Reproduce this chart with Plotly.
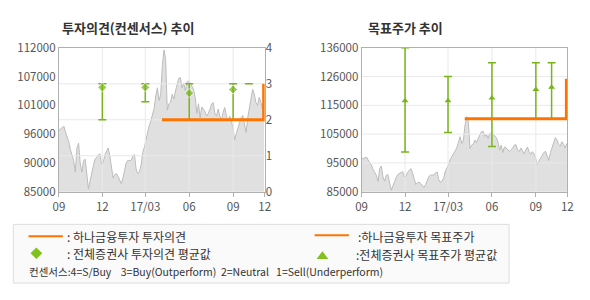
import numpy as np
import pandas as pd
import plotly.graph_objects as go

# ---------------- data ----------------
price = [96500, 96800, 97100, 97300, 96200, 95300, 94400, 92900, 91700, 90800,
         88700, 93200, 94100, 90200, 88700, 90800, 91100, 88400, 85500, 87000,
         88700, 89900, 91100, 91400, 91900, 92100, 90200, 90500, 91900, 92600,
         93200, 91700, 89300, 87600, 88200, 88400, 87900, 87300, 86500, 87600,
         89300, 90400, 90900, 90800, 90900, 91700, 92000, 89300, 88400, 88700,
         89900, 92300, 93300, 94700, 96500, 97400, 98300, 99500, 100600, 103000,
         104500, 102100, 103300, 108700, 111600, 109900, 100300, 101500, 101800, 103300,
         102400, 103900, 105100, 106300, 106400, 104500, 105400, 103900, 105600, 105800,
         105400, 104800, 104200, 102700, 99700, 101500, 98900, 100900, 100500, 100000,
         99200, 99700, 100500, 101500, 101700, 99700, 99200, 100500, 99200, 98400,
         99900, 100800, 99200, 98300, 99200, 98400, 96900, 94700, 95900, 96800,
         97700, 98900, 99300, 97300, 96100, 98900, 100600, 102400, 104200, 103300,
         101700, 101200, 102700, 101800, 100500, 102100]
price_start = "2016-09-01"
price_end = "2017-11-05"
x_range = ["2016-09-01", "2017-11-06"]

tick_dates = ["2016-09-01", "2016-12-01", "2017-03-01", "2017-06-01", "2017-09-01", "2017-11-06"]
tick_text = ["09", "12", "17/03", "06", "09", "12"]
grid_dates = ["2016-12-01", "2017-03-01", "2017-06-01", "2017-09-01"]

left_price_range = [85000, 112000]
left_tick_text = ["85000", "90000", "96000", "101000", "107000", "112000"]
right_price_range = [85000, 136000]
right_tick_text = ["85000", "95000", "105000", "115000", "126000", "136000"]
opinion_ticks = [0, 1, 2, 3, 4]

cons_dates = ["2016-12-01", "2017-03-01", "2017-06-01", "2017-09-01", "2017-10-04"]
opinion_mean = [2.9, 2.9, 2.74, 2.84, 3.0]
opinion_max = [3, 3, 3, 3, 3]
opinion_min = [2, 2.5, 2, 2, 3]
target_mean = [117200, 117200, 118200, 121200, 122000]
target_max = [136000, 125800, 130700, 130700, 130700]
target_min = [99100, 106000, 101000, 110900, 110900]

hana_dates = ["2017-04-05", "2017-11-04", "2017-11-04"]
hana_opinion = [2, 2, 3]
hana_target = [110900, 110900, 125000]

# ---------------- styles ----------------
W, H = 590, 300
FONT = "Noto Sans CJK KR"
GREEN = "#78b41a"
GREEN_L = "#82c01e"
ORANGE = "#ff7400"
GRID = "#e9e9e9"
FRAME = "#b0b0b0"
AREA_FILL = "#e0e0e0"
AREA_LINE = "#bcbcbc"
TICK_FONT = dict(family=FONT, size=11.5, color="#555555")


def px_x(p):
    return p / W


def px_y(p):
    return 1 - p / H


dates = pd.date_range(price_start, price_end, periods=len(price))

fig = go.Figure()

# ---- left chart: price area ----
fig.add_trace(go.Scatter(x=dates, y=price, xaxis="x", yaxis="y", mode="lines",
                         line=dict(color=AREA_LINE, width=1), fill="tozeroy",
                         fillcolor=AREA_FILL, hoverinfo="skip"))
# gridlines (drawn over the area)
gx, gy = [], []
for lv in opinion_ticks[1:-1]:
    gx += [x_range[0], x_range[1], None]
    gy += [lv, lv, None]
for d in grid_dates:
    gx += [d, d, None]
    gy += [opinion_ticks[0], opinion_ticks[-1], None]
fig.add_trace(go.Scatter(x=gx, y=gy, xaxis="x", yaxis="y2", mode="lines",
                         line=dict(color=GRID, width=1), hoverinfo="skip"))
# consensus opinion
fig.add_trace(go.Scatter(
    x=cons_dates, y=opinion_mean, xaxis="x", yaxis="y2", mode="markers",
    marker=dict(symbol="diamond", size=[7, 7, 7, 7, 0], color=GREEN),
    error_y=dict(type="data", symmetric=False,
                 array=[a - m for a, m in zip(opinion_max, opinion_mean)],
                 arrayminus=[m - b for m, b in zip(opinion_mean, opinion_min)],
                 color=GREEN, thickness=1.5, width=4),
    hoverinfo="skip"))
fig.add_trace(go.Scatter(x=hana_dates, y=hana_opinion, xaxis="x", yaxis="y2",
                         mode="lines", line=dict(color=ORANGE, width=3),
                         hoverinfo="skip"))

# ---- right chart ----
fig.add_trace(go.Scatter(x=dates, y=price, xaxis="x2", yaxis="y3", mode="lines",
                         line=dict(color=AREA_LINE, width=1), fill="tozeroy",
                         fillcolor=AREA_FILL, hoverinfo="skip"))
rtv = list(np.linspace(right_price_range[0], right_price_range[1], len(right_tick_text)))
gx, gy = [], []
for lv in rtv[1:-1]:
    gx += [x_range[0], x_range[1], None]
    gy += [lv, lv, None]
for d in grid_dates:
    gx += [d, d, None]
    gy += [right_price_range[0], right_price_range[1], None]
fig.add_trace(go.Scatter(x=gx, y=gy, xaxis="x2", yaxis="y3", mode="lines",
                         line=dict(color=GRID, width=1), hoverinfo="skip"))
fig.add_trace(go.Scatter(
    x=cons_dates, y=target_mean, xaxis="x2", yaxis="y3", mode="markers",
    marker=dict(symbol="triangle-up", size=6, color=GREEN),
    error_y=dict(type="data", symmetric=False,
                 array=[a - m for a, m in zip(target_max, target_mean)],
                 arrayminus=[m - b for m, b in zip(target_mean, target_min)],
                 color=GREEN, thickness=1.5, width=4),
    hoverinfo="skip"))
fig.add_trace(go.Scatter(x=hana_dates, y=hana_target, xaxis="x2", yaxis="y3",
                         mode="lines", line=dict(color=ORANGE, width=3),
                         hoverinfo="skip"))

ydom = [px_y(193), px_y(41)]
xcommon = dict(type="date", range=x_range, tickvals=tick_dates, ticktext=tick_text,
               showgrid=False, zeroline=False, showline=True, linecolor=FRAME,
               linewidth=1, mirror=True, ticks="outside", ticklen=4,
               tickcolor=FRAME, tickfont=TICK_FONT, fixedrange=True)
ltv = list(np.linspace(left_price_range[0], left_price_range[1], len(left_tick_text)))

fig.update_layout(
    width=W, height=H, margin=dict(l=0, r=0, t=0, b=0),
    paper_bgcolor="white", plot_bgcolor="white", showlegend=False,
    xaxis=dict(domain=[px_x(54), px_x(264)], anchor="y", **xcommon),
    yaxis=dict(domain=ydom, anchor="x", range=left_price_range, tickvals=ltv,
               ticktext=left_tick_text, showgrid=False, zeroline=False,
               showline=True, linecolor=FRAME, mirror=True, ticks="",
               tickfont=TICK_FONT, fixedrange=True),
    yaxis2=dict(overlaying="y", anchor="x", side="right", range=[0, 4],
                tickvals=opinion_ticks, showgrid=False, zeroline=False,
                showline=False, ticks="", tickfont=TICK_FONT, fixedrange=True),
    xaxis2=dict(domain=[px_x(363), px_x(573)], anchor="y3", **xcommon),
    yaxis3=dict(domain=ydom, anchor="x2", range=right_price_range, tickvals=rtv,
                ticktext=right_tick_text, showgrid=False, zeroline=False,
                showline=True, linecolor=FRAME, mirror=True, ticks="",
                tickfont=TICK_FONT, fixedrange=True),
)

# titles
fig.add_annotation(x=px_x(55), y=px_y(20), xref="paper", yref="paper",
                   text="<b>투자의견(컨센서스) 추이</b>", showarrow=False,
                   xanchor="left", yanchor="middle",
                   font=dict(family=FONT, size=13, color="#333333"))
fig.add_annotation(x=px_x(367), y=px_y(20), xref="paper", yref="paper",
                   text="<b>목표주가 추이</b>", showarrow=False,
                   xanchor="left", yanchor="middle",
                   font=dict(family=FONT, size=13, color="#333333"))

# legend box
fig.add_shape(type="rect", xref="paper", yref="paper",
              x0=px_x(7.5), x1=px_x(513.5), y0=px_y(289.5), y1=px_y(227.5),
              line=dict(color="#dddddd", width=1), fillcolor="#fafafa", layer="below")
fig.add_shape(type="line", xref="paper", yref="paper",
              x0=px_x(23), x1=px_x(58), y0=px_y(240), y1=px_y(240),
              line=dict(color=ORANGE, width=2))
fig.add_shape(type="line", xref="paper", yref="paper",
              x0=px_x(315), x1=px_x(350), y0=px_y(239), y1=px_y(239),
              line=dict(color=ORANGE, width=2))
cx, cy, r = 31, 258, 6
fig.add_shape(type="path", xref="paper", yref="paper",
              path=f"M {px_x(cx)} {px_y(cy - r)} L {px_x(cx + r)} {px_y(cy)} "
                   f"L {px_x(cx)} {px_y(cy + r)} L {px_x(cx - r)} {px_y(cy)} Z",
              fillcolor=GREEN_L, line=dict(width=0))
tx, ty = 323, 260
fig.add_shape(type="path", xref="paper", yref="paper",
              path=f"M {px_x(tx - 6)} {px_y(ty + 4)} L {px_x(tx + 6)} {px_y(ty + 4)} "
                   f"L {px_x(tx)} {px_y(ty - 4)} Z",
              fillcolor=GREEN_L, line=dict(width=0))

LEG_FONT = dict(family=FONT, size=12, color="#333333")
legend_texts = [
    (60, 240, ": 하나금융투자 투자의견"),
    (60, 258, ": 전체증권사 투자의견 평균값"),
    (357, 240, ":하나금융투자 목표주가"),
    (355, 259, ":전체증권사 목표주가 평균값"),
]
for x, y, t in legend_texts:
    fig.add_annotation(x=px_x(x), y=px_y(y), xref="paper", yref="paper", text=t,
                       showarrow=False, xanchor="left", yanchor="middle",
                       font=LEG_FONT)
fig.add_annotation(
    x=px_x(21), y=px_y(277), xref="paper", yref="paper",
    text="컨센서스:4=S/Buy&nbsp;&nbsp;&nbsp;&nbsp;3=Buy(Outperform)&nbsp;&nbsp;2=Neutral&nbsp;&nbsp;&nbsp;1=Sell(Underperform)",
    showarrow=False, xanchor="left", yanchor="middle",
    font=dict(family=FONT, size=10.5, color="#333333"))

fig.write_html("out.html")
